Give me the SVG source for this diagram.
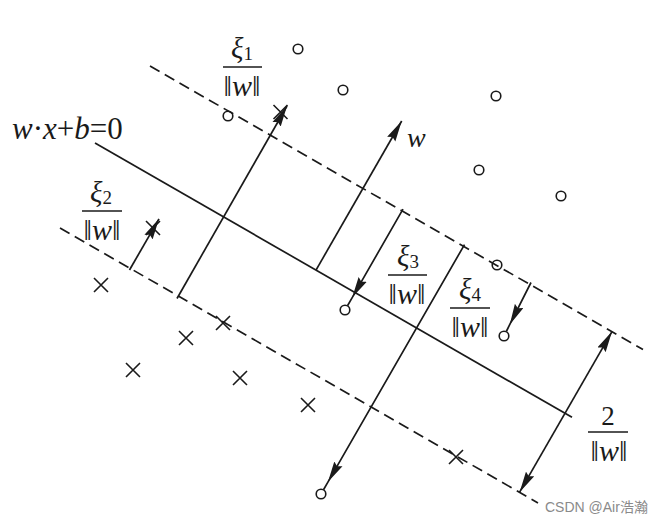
<svg xmlns="http://www.w3.org/2000/svg" width="660" height="523" viewBox="0 0 660 523">
<style>
  .ln{stroke:#1a1a1a;stroke-width:1.7;fill:none}
  .dash{stroke-dasharray:11 6}
  .pt{stroke:#1a1a1a;stroke-width:1.6;fill:none}
  .tx{font-family:"Liberation Serif","Times New Roman",serif;fill:#1a1a1a}
  .it{font-style:italic}
  .bar{stroke:#1a1a1a;stroke-width:1.5}
  .wm{font-family:"Liberation Sans","Noto Sans CJK SC",sans-serif;font-size:14px;fill:#8a8a8a}
</style>
<defs>
  <marker id="ah" markerUnits="userSpaceOnUse" markerWidth="21" markerHeight="10" viewBox="0 0 20 9" refX="20" refY="4.5" orient="auto-start-reverse">
    <path d="M0,0 L20,4.5 L0,9 L2.5,4.5 z" fill="#1a1a1a"/>
  </marker>
</defs>
<rect width="660" height="523" fill="#ffffff"/>
<g id="lines">
  <path id="hyperplane" class="ln" d="M95,143 L572,417.3"/>
  <path id="margin-upper" class="ln dash" d="M150,66 L643,349.5"/>
  <path id="margin-lower" class="ln dash" d="M60,228 L538,503"/>
</g>
<g id="connectors">
  <path id="arrow-xi1" class="ln" d="M177,298.5 L287,106" marker-end="url(#ah)"/>
  <path id="arrow-xi2" class="ln" d="M129.5,270 L159,218.8" marker-end="url(#ah)"/>
  <path id="arrow-w" class="ln" d="M316,270.1 L401.7,121" marker-end="url(#ah)"/>
  <path id="arrow-xi3" class="ln" d="M403,209.2 L352.2,297.6 L347.5,305.7" marker-mid="url(#ah)"/>
  <path id="arrow-long" class="ln" d="M464.5,244.6 L327.9,482.1 L323.5,489.7" marker-mid="url(#ah)"/>
  <path id="arrow-xi4" class="ln" d="M531,282.5 L509.7,324.7 L506.3,331.5" marker-mid="url(#ah)"/>
  <path id="arrow-margin" class="ln" d="M612,331.6 L519.6,492.2" marker-start="url(#ah)" marker-end="url(#ah)"/>
</g>
<g id="positive-points">
  <circle id="p1" class="pt" cx="298" cy="49" r="4.8"/>
  <circle id="p2" class="pt" cx="228" cy="116" r="4.8"/>
  <circle id="p3" class="pt" cx="343" cy="90" r="4.8"/>
  <circle id="p4" class="pt" cx="496" cy="96" r="4.8"/>
  <circle id="p5" class="pt" cx="479" cy="170" r="4.8"/>
  <circle id="p6" class="pt" cx="561" cy="196" r="4.8"/>
  <circle id="p7" class="pt" cx="497" cy="265" r="4.8"/>
  <circle id="p8" class="pt" cx="345" cy="310" r="4.8"/>
  <circle id="p9" class="pt" cx="504" cy="336" r="4.8"/>
  <circle id="p10" class="pt" cx="321" cy="494" r="4.8"/>
</g>
<g id="negative-points">
  <path id="n1" class="pt" d="M273.5,105 l14,14 M287.5,105 l-14,14"/>
  <path id="n2" class="pt" d="M146,221 l14,14 M160,221 l-14,14"/>
  <path id="n3" class="pt" d="M94,278 l14,14 M108,278 l-14,14"/>
  <path id="n4" class="pt" d="M216,316 l14,14 M230,316 l-14,14"/>
  <path id="n5" class="pt" d="M179,331 l14,14 M193,331 l-14,14"/>
  <path id="n6" class="pt" d="M126,363 l14,14 M140,363 l-14,14"/>
  <path id="n7" class="pt" d="M233,371 l14,14 M247,371 l-14,14"/>
  <path id="n8" class="pt" d="M301,398 l14,14 M315,398 l-14,14"/>
  <path id="n9" class="pt" d="M449,450 l14,14 M463,450 l-14,14"/>
</g>
<g id="label-hyperplane">
  <text class="tx" x="12" y="139" font-size="31"><tspan class="it">w</tspan>·<tspan class="it">x</tspan>+<tspan class="it">b</tspan>=0</text>
</g>
<g id="label-w">
  <text class="tx it" x="407" y="147" font-size="28">w</text>
</g>
<g id="label-xi1">
  <text class="tx" x="242" y="58" font-size="29" text-anchor="middle"><tspan class="it">ξ</tspan><tspan font-size="19" dy="2">1</tspan></text>
  <line class="bar" x1="223" y1="67" x2="262" y2="67"/>
  <text class="tx" x="242" y="96" font-size="30" text-anchor="middle">‖<tspan class="it">w</tspan>‖</text>
</g>
<g id="label-xi2">
  <text class="tx" x="101" y="202" font-size="29" text-anchor="middle"><tspan class="it">ξ</tspan><tspan font-size="19" dy="2">2</tspan></text>
  <line class="bar" x1="82" y1="211" x2="122" y2="211"/>
  <text class="tx" x="102" y="240" font-size="30" text-anchor="middle">‖<tspan class="it">w</tspan>‖</text>
</g>
<g id="label-xi3">
  <text class="tx" x="408" y="266" font-size="29" text-anchor="middle"><tspan class="it">ξ</tspan><tspan font-size="19" dy="2">3</tspan></text>
  <line class="bar" x1="388" y1="275" x2="427" y2="275"/>
  <text class="tx" x="407" y="304" font-size="30" text-anchor="middle">‖<tspan class="it">w</tspan>‖</text>
</g>
<g id="label-xi4">
  <text class="tx" x="470" y="299" font-size="29" text-anchor="middle"><tspan class="it">ξ</tspan><tspan font-size="19" dy="2">4</tspan></text>
  <line class="bar" x1="450" y1="308" x2="490" y2="308"/>
  <text class="tx" x="470" y="337" font-size="30" text-anchor="middle">‖<tspan class="it">w</tspan>‖</text>
</g>
<g id="label-margin">
  <text class="tx" x="608" y="425" font-size="27" text-anchor="middle">2</text>
  <line class="bar" x1="588" y1="432" x2="628" y2="432"/>
  <text class="tx" x="609" y="461" font-size="30" text-anchor="middle">‖<tspan class="it">w</tspan>‖</text>
</g>
<g id="watermark">
  <text class="wm" x="545" y="512">CSDN @Air浩瀚</text>
</g>
</svg>
